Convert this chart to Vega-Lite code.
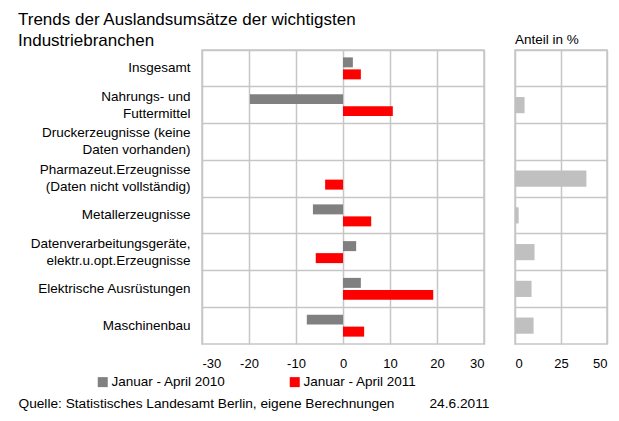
{
  "$schema": "https://vega.github.io/schema/vega-lite/v6.json",
  "padding": {"left": 17, "top": 9, "right": 5, "bottom": 5},
  "background": "white",
  "bounds": "flush",
  "spacing": 31,
  "config": {
    "font": "Liberation Sans",
    "view": {"stroke": "#C6C6C6", "strokeWidth": 1.5},
    "axis": {"gridColor": "#C6C6C6", "gridWidth": 1.5, "labelColor": "#000000", "labelFont": "Liberation Sans", "titleFont": "Liberation Sans", "titleColor": "#000000", "titleFontWeight": "normal"},
    "title": {"font": "Liberation Sans", "color": "#000000", "fontWeight": "normal"}
  },
  "datasets": {
    "trend": [
      {"branche": "Insgesamt", "zeitraum": "Januar - April 2010", "veraenderung": 2.1},
      {"branche": "Insgesamt", "zeitraum": "Januar - April 2011", "veraenderung": 3.8},
      {"branche": "Nahrungs- und Futtermittel", "zeitraum": "Januar - April 2010", "veraenderung": -19.8},
      {"branche": "Nahrungs- und Futtermittel", "zeitraum": "Januar - April 2011", "veraenderung": 10.6},
      {"branche": "Pharmazeut.Erzeugnisse (Daten nicht vollständig)", "zeitraum": "Januar - April 2011", "veraenderung": -3.8},
      {"branche": "Metallerzeugnisse", "zeitraum": "Januar - April 2010", "veraenderung": -6.4},
      {"branche": "Metallerzeugnisse", "zeitraum": "Januar - April 2011", "veraenderung": 6.0},
      {"branche": "Datenverarbeitungsgeräte, elektr.u.opt.Erzeugnisse", "zeitraum": "Januar - April 2010", "veraenderung": 2.8},
      {"branche": "Datenverarbeitungsgeräte, elektr.u.opt.Erzeugnisse", "zeitraum": "Januar - April 2011", "veraenderung": -5.8},
      {"branche": "Elektrische Ausrüstungen", "zeitraum": "Januar - April 2010", "veraenderung": 3.8},
      {"branche": "Elektrische Ausrüstungen", "zeitraum": "Januar - April 2011", "veraenderung": 19.2},
      {"branche": "Maschinenbau", "zeitraum": "Januar - April 2010", "veraenderung": -7.7},
      {"branche": "Maschinenbau", "zeitraum": "Januar - April 2011", "veraenderung": 4.5}
    ],
    "anteil": [
      {"branche": "Nahrungs- und Futtermittel", "anteil": 5.2},
      {"branche": "Pharmazeut.Erzeugnisse (Daten nicht vollständig)", "anteil": 38.8},
      {"branche": "Metallerzeugnisse", "anteil": 2.0},
      {"branche": "Datenverarbeitungsgeräte, elektr.u.opt.Erzeugnisse", "anteil": 10.6},
      {"branche": "Elektrische Ausrüstungen", "anteil": 9.0},
      {"branche": "Maschinenbau", "anteil": 10.1}
    ]
  },
  "hconcat": [
    {
      "width": 282,
      "height": 294,
      "title": {
        "text": ["Trends der Auslandsumsätze der wichtigsten", "Industriebranchen"],
        "anchor": "start",
        "frame": "group",
        "dx": -184,
        "fontSize": 17,
        "lineHeight": 21.5,
        "offset": 0
      },
      "data": {"name": "trend"},
      "mark": {"type": "bar"},
      "encoding": {
        "y": {
          "field": "branche",
          "type": "nominal",
          "sort": null,
          "scale": {
            "domain": ["Insgesamt", "Nahrungs- und Futtermittel", "Druckerzeugnisse (keine Daten vorhanden)", "Pharmazeut.Erzeugnisse (Daten nicht vollständig)", "Metallerzeugnisse", "Datenverarbeitungsgeräte, elektr.u.opt.Erzeugnisse", "Elektrische Ausrüstungen", "Maschinenbau"],
            "paddingInner": 0,
            "paddingOuter": 0
          },
          "axis": {
            "title": null,
            "ticks": false,
            "domain": false,
            "grid": true,
            "bandPosition": 0,
            "labelFontSize": 13.5,
            "labelPadding": 12,
            "labelLimit": 300,
            "labelLineHeight": 17,
            "labelBaseline": "middle",
            "labelOffset": {"condition": {"test": "datum.value == 'Nahrungs- und Futtermittel' || datum.value == 'Druckerzeugnisse (keine Daten vorhanden)' || datum.value == 'Pharmazeut.Erzeugnisse (Daten nicht vollständig)' || datum.value == 'Datenverarbeitungsgeräte, elektr.u.opt.Erzeugnisse'", "value": -8.5}, "value": 0},
            "labelExpr": "datum.label == 'Nahrungs- und Futtermittel' ? ['Nahrungs- und', 'Futtermittel   '] : datum.label == 'Druckerzeugnisse (keine Daten vorhanden)' ? ['Druckerzeugnisse (keine', 'Daten vorhanden)      '] : datum.label == 'Pharmazeut.Erzeugnisse (Daten nicht vollständig)' ? ['Pharmazeut.Erzeugnisse', '(Daten nicht vollständig)'] : datum.label == 'Datenverarbeitungsgeräte, elektr.u.opt.Erzeugnisse' ? ['Datenverarbeitungsgeräte,', 'elektr.u.opt.Erzeugnisse  '] : datum.label"
          }
        },
        "yOffset": {
          "field": "zeitraum",
          "type": "nominal",
          "scale": {"domain": ["Januar - April 2010", "Januar - April 2011"], "paddingInner": 0.167, "paddingOuter": 0.615}
        },
        "x": {
          "field": "veraenderung",
          "type": "quantitative",
          "scale": {"domain": [-30, 30], "nice": false},
          "axis": {
            "values": [-30, -20, -10, 0, 10, 20, 30],
            "labelExpr": "toString(datum.value)",
            "title": "Quelle: Statistisches Landesamt Berlin, eigene Berechnungen",
            "titleFontSize": 13.7,
            "titleX": -184,
            "titleY": 63,
            "titleAlign": "left",
            "titleBaseline": "alphabetic",
            "ticks": false,
            "domain": false,
            "labelFontSize": 13,
            "labelPadding": 13,
            "grid": true
          }
        },
        "color": {
          "field": "zeitraum",
          "type": "nominal",
          "scale": {"domain": ["Januar - April 2010", "Januar - April 2011"], "range": ["#808080", "#FF0000"]},
          "legend": {
            "title": null,
            "orient": "none",
            "direction": "horizontal",
            "legendX": -106,
            "legendY": 325,
            "padding": 0,
            "symbolType": "square",
            "symbolSize": 100,
            "symbolStrokeWidth": 0,
            "symbolOpacity": 1,
            "labelFontSize": 13.5,
            "labelColor": "#000000",
            "labelOffset": 2,
            "columnPadding": 62
          }
        }
      }
    },
    {
      "width": 92,
      "height": 294,
      "title": {
        "text": "Anteil in %",
        "anchor": "start",
        "frame": "group",
        "fontSize": 13.5,
        "offset": 4
      },
      "data": {"name": "anteil"},
      "mark": {"type": "bar", "color": "#C0C0C0", "height": {"band": 0.44}},
      "encoding": {
        "y": {
          "field": "branche",
          "type": "nominal",
          "sort": null,
          "scale": {
            "domain": ["Insgesamt", "Nahrungs- und Futtermittel", "Druckerzeugnisse (keine Daten vorhanden)", "Pharmazeut.Erzeugnisse (Daten nicht vollständig)", "Metallerzeugnisse", "Datenverarbeitungsgeräte, elektr.u.opt.Erzeugnisse", "Elektrische Ausrüstungen", "Maschinenbau"],
            "paddingInner": 0,
            "paddingOuter": 0
          },
          "axis": {
            "title": null,
            "labels": false,
            "ticks": false,
            "domain": false,
            "grid": true,
            "bandPosition": 0
          }
        },
        "x": {
          "field": "anteil",
          "type": "quantitative",
          "scale": {"domain": [0, 50], "nice": false},
          "axis": {
            "values": [0, 25, 50],
            "title": "24.6.2011",
            "titleFontSize": 13.7,
            "titleX": -86,
            "titleY": 63,
            "titleAlign": "left",
            "titleBaseline": "alphabetic",
            "ticks": false,
            "domain": false,
            "labelFontSize": 13,
            "labelPadding": 13,
            "grid": true
          }
        }
      }
    }
  ]
}
